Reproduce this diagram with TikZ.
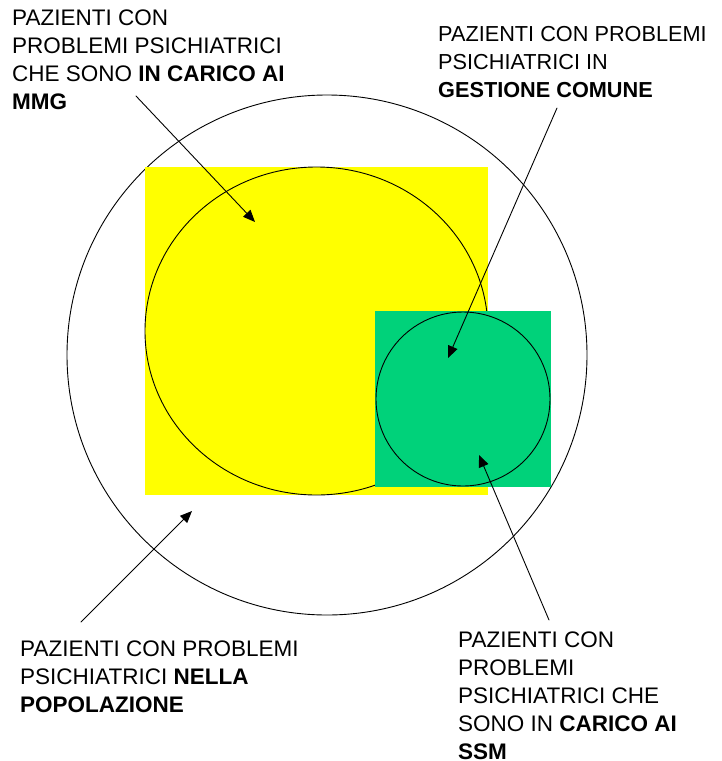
\documentclass[tikz,border=0pt]{standalone}
\usepackage{fontspec}
\setmainfont{Liberation Sans}
\usetikzlibrary{arrows.meta}
\definecolor{giallo}{RGB}{255,255,0}
\definecolor{verde}{RGB}{0,210,122}
\begin{document}
\begin{tikzpicture}[x=1pt,y=-1pt,line cap=round,line join=round]
  \tikzset{
    lab/.style={anchor=north west,inner sep=0pt,align=left,font=\fontsize{22.5}{28}\selectfont},
    freccia/.style={line width=0.9pt,-{Triangle[length=12pt,width=10pt]}}
  }
  \useasboundingbox (0,0) rectangle (722,761);
  \coordinate (O) at (327,355);
  \coordinate (Y) at (316.5,331);
  \coordinate (G) at (463,399);
  \draw[line width=0.9pt] (O) circle[radius=260];
  \fill[giallo] (145,167) rectangle (488,495);
  \draw[line width=0.9pt] (Y) ellipse[x radius=171.5, y radius=164];
  \fill[verde] (375,311) rectangle (551,487);
  \draw[line width=0.9pt] (G) circle[radius=87];
  \coordinate (mmgA) at (136,96);
  \coordinate (mmgB) at (255,222);
  \coordinate (gcA) at (557,108);
  \coordinate (gcB) at (448,358);
  \coordinate (ssmA) at (549,620);
  \coordinate (ssmB) at (479,455);
  \coordinate (popA) at (81,622);
  \coordinate (popB) at (192,511);
  \draw[freccia] (mmgA) -- (mmgB);
  \draw[freccia] (gcA) -- (gcB);
  \draw[freccia] (ssmA) -- (ssmB);
  \draw[freccia] (popA) -- (popB);
  \node[lab] (mmg) at (12,10) {PAZIENTI CON\\PROBLEMI PSICHIATRICI\\CHE SONO \textbf{IN CARICO AI}\\\textbf{MMG}};
  \node[lab,font=\fontsize{21.7}{28}\selectfont] (gc) at (438,26.5) {PAZIENTI CON PROBLEMI\\PSICHIATRICI IN\\\textbf{GESTIONE COMUNE}};
  \node[lab] (pop) at (20,641) {PAZIENTI CON PROBLEMI\\PSICHIATRICI \textbf{NELLA}\\\textbf{POPOLAZIONE}};
  \node[lab] (ssm) at (458,632) {PAZIENTI CON\\PROBLEMI\\PSICHIATRICI CHE\\SONO IN \textbf{CARICO AI}\\\textbf{SSM}};
\end{tikzpicture}
\end{document}
